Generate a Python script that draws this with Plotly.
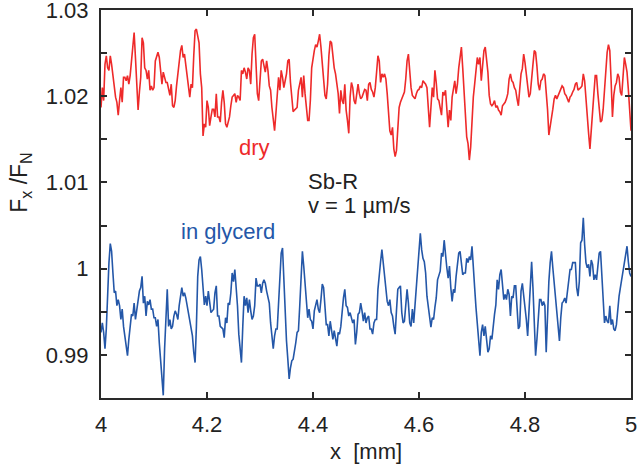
import numpy as np
import plotly.graph_objects as go

# Friction ratio Fx/FN vs sliding distance x [mm], sampled on a uniform grid 4..5 mm
dry = [
1.0187, 1.0210, 1.0195, 1.0237, 1.0247, 1.0233, 1.0230, 1.0247, 1.0237, 1.0222,
1.0212, 1.0199, 1.0193, 1.0178, 1.0195, 1.0210, 1.0193, 1.0222, 1.0222, 1.0218,
1.0224, 1.0214, 1.0224, 1.0241, 1.0262, 1.0274, 1.0245, 1.0214, 1.0184, 1.0205,
1.0222, 1.0268, 1.0262, 1.0233, 1.0230, 1.0220, 1.0230, 1.0207, 1.0212, 1.0207,
1.0210, 1.0241, 1.0247, 1.0251, 1.0245, 1.0232, 1.0214, 1.0228, 1.0220, 1.0216,
1.0216, 1.0210, 1.0201, 1.0214, 1.0189, 1.0187, 1.0195, 1.0212, 1.0228, 1.0237,
1.0253, 1.0259, 1.0245, 1.0249, 1.0235, 1.0222, 1.0207, 1.0199, 1.0214, 1.0210,
1.0247, 1.0276, 1.0278, 1.0270, 1.0262, 1.0226, 1.0210, 1.0154, 1.0168, 1.0164,
1.0195, 1.0187, 1.0166, 1.0176, 1.0185, 1.0185, 1.0176, 1.0203, 1.0176, 1.0176,
1.0170, 1.0193, 1.0207, 1.0193, 1.0168, 1.0164, 1.0172, 1.0176, 1.0189, 1.0199,
1.0201, 1.0203, 1.0193, 1.0201, 1.0199, 1.0195, 1.0230, 1.0226, 1.0233, 1.0228,
1.0220, 1.0233, 1.0230, 1.0214, 1.0249, 1.0268, 1.0272, 1.0243, 1.0203, 1.0195,
1.0214, 1.0241, 1.0243, 1.0235, 1.0228, 1.0241, 1.0230, 1.0212, 1.0207, 1.0187,
1.0176, 1.0160, 1.0180, 1.0207, 1.0222, 1.0207, 1.0230, 1.0222, 1.0210, 1.0218,
1.0226, 1.0241, 1.0243, 1.0216, 1.0195, 1.0182, 1.0184, 1.0185, 1.0187, 1.0207,
1.0214, 1.0222, 1.0199, 1.0224, 1.0203, 1.0185, 1.0172, 1.0172, 1.0195, 1.0233,
1.0245, 1.0253, 1.0260, 1.0257, 1.0264, 1.0272, 1.0257, 1.0235, 1.0212, 1.0201,
1.0197, 1.0214, 1.0247, 1.0264, 1.0262, 1.0243, 1.0233, 1.0226, 1.0214, 1.0203,
1.0180, 1.0207, 1.0195, 1.0191, 1.0214, 1.0184, 1.0172, 1.0157, 1.0199, 1.0216,
1.0210, 1.0195, 1.0191, 1.0207, 1.0214, 1.0203, 1.0197, 1.0199, 1.0205, 1.0208,
1.0207, 1.0195, 1.0214, 1.0216, 1.0208, 1.0205, 1.0199, 1.0210, 1.0228, 1.0247,
1.0241, 1.0216, 1.0226, 1.0222, 1.0226, 1.0220, 1.0203, 1.0176, 1.0160, 1.0155,
1.0164, 1.0139, 1.0130, 1.0137, 1.0164, 1.0187, 1.0193, 1.0197, 1.0201, 1.0205,
1.0220, 1.0241, 1.0249, 1.0228, 1.0210, 1.0201, 1.0199, 1.0197, 1.0203, 1.0207,
1.0208, 1.0212, 1.0210, 1.0218, 1.0216, 1.0214, 1.0210, 1.0189, 1.0164, 1.0187,
1.0210, 1.0199, 1.0230, 1.0216, 1.0197, 1.0195, 1.0184, 1.0178, 1.0205, 1.0201,
1.0207, 1.0184, 1.0164, 1.0184, 1.0172, 1.0199, 1.0207, 1.0218, 1.0203, 1.0214,
1.0233, 1.0249, 1.0257, 1.0233, 1.0203, 1.0176, 1.0153, 1.0145, 1.0126, 1.0141,
1.0172, 1.0199, 1.0214, 1.0233, 1.0245, 1.0237, 1.0245, 1.0218, 1.0241, 1.0253,
1.0257, 1.0245, 1.0228, 1.0201, 1.0191, 1.0189, 1.0191, 1.0195, 1.0187, 1.0189,
1.0184, 1.0182, 1.0178, 1.0189, 1.0191, 1.0193, 1.0197, 1.0203, 1.0220, 1.0226,
1.0218, 1.0216, 1.0210, 1.0207, 1.0197, 1.0189, 1.0208, 1.0226, 1.0232, 1.0249,
1.0239, 1.0224, 1.0214, 1.0199, 1.0203, 1.0224, 1.0237, 1.0253, 1.0251, 1.0235,
1.0214, 1.0207, 1.0218, 1.0220, 1.0226, 1.0224, 1.0205, 1.0185, 1.0155, 1.0164,
1.0178, 1.0185, 1.0197, 1.0201, 1.0197, 1.0201, 1.0205, 1.0207, 1.0212, 1.0210,
1.0203, 1.0201, 1.0197, 1.0193, 1.0199, 1.0201, 1.0205, 1.0208, 1.0214, 1.0216,
1.0207, 1.0208, 1.0210, 1.0212, 1.0226, 1.0218, 1.0193, 1.0176, 1.0157, 1.0139,
1.0164, 1.0184, 1.0203, 1.0224, 1.0224, 1.0203, 1.0184, 1.0170, 1.0172, 1.0185,
1.0207, 1.0235, 1.0251, 1.0260, 1.0253, 1.0218, 1.0176, 1.0201, 1.0212, 1.0216,
1.0226, 1.0222, 1.0205, 1.0201, 1.0222, 1.0245, 1.0237, 1.0228, 1.0208, 1.0180, 1.0160,
]

glycerol = [
0.9926, 0.9937, 0.9926, 0.9907, 0.9930, 0.9983, 1.0007, 1.0029, 1.0020, 0.9995,
0.9972, 0.9974, 0.9957, 0.9964, 0.9957, 0.9941, 0.9953, 0.9933, 0.9920, 0.9914,
0.9899, 0.9918, 0.9930, 0.9947, 0.9945, 0.9960, 0.9941, 0.9953, 0.9964, 0.9974,
0.9978, 0.9991, 0.9960, 0.9968, 0.9945, 0.9962, 0.9958, 0.9964, 0.9953, 0.9953,
0.9943, 0.9943, 0.9933, 0.9941, 0.9914, 0.9895, 0.9872, 0.9853, 0.9907, 0.9937,
0.9976, 0.9933, 0.9941, 0.9930, 0.9933, 0.9945, 0.9951, 0.9947, 0.9941, 0.9957,
0.9968, 0.9978, 0.9968, 0.9972, 0.9966, 0.9957, 0.9947, 0.9943, 0.9933, 0.9922,
0.9903, 0.9891, 0.9933, 0.9991, 1.0010, 1.0014, 0.9999, 0.9976, 0.9958, 0.9968,
0.9957, 0.9974, 0.9957, 0.9949, 0.9951, 0.9953, 0.9972, 0.9980, 0.9945, 0.9945,
0.9933, 0.9932, 0.9930, 0.9920, 0.9943, 0.9937, 0.9960, 0.9958, 0.9972, 0.9995,
0.9985, 0.9999, 0.9980, 0.9957, 0.9924, 0.9907, 0.9891, 0.9933, 0.9968, 0.9957,
0.9966, 0.9949, 0.9964, 0.9951, 0.9941, 0.9945, 0.9957, 0.9989, 0.9980, 0.9980,
0.9982, 0.9972, 0.9983, 0.9987, 0.9983, 0.9974, 0.9968, 0.9960, 0.9937, 0.9922,
0.9907, 0.9922, 0.9930, 0.9930, 0.9958, 0.9991, 1.0018, 1.0024, 0.9987, 0.9945,
0.9916, 0.9895, 0.9872, 0.9885, 0.9893, 0.9895, 0.9908, 0.9914, 0.9926, 0.9928,
0.9957, 0.9999, 1.0020, 1.0003, 0.9980, 0.9953, 0.9943, 0.9953, 0.9941, 0.9939,
0.9930, 0.9951, 0.9958, 0.9964, 0.9953, 0.9949, 0.9964, 0.9982, 0.9978, 0.9953,
0.9935, 0.9935, 0.9922, 0.9939, 0.9928, 0.9918, 0.9928, 0.9916, 0.9910, 0.9926,
0.9924, 0.9933, 0.9951, 0.9966, 0.9976, 0.9957, 0.9955, 0.9945, 0.9949, 0.9943,
0.9937, 0.9941, 0.9912, 0.9926, 0.9947, 0.9949, 0.9960, 0.9951, 0.9939, 0.9949,
0.9937, 0.9943, 0.9945, 0.9930, 0.9930, 0.9924, 0.9937, 0.9941, 0.9941, 0.9976,
0.9997, 1.0008, 1.0022, 1.0007, 0.9987, 0.9972, 0.9962, 0.9957, 0.9964, 0.9949,
0.9945, 0.9933, 0.9924, 0.9951, 0.9976, 0.9978, 0.9980, 0.9949, 0.9937, 0.9939,
0.9957, 0.9976, 0.9960, 0.9937, 0.9933, 0.9953, 0.9937, 0.9957, 0.9983, 0.9995,
1.0020, 1.0041, 1.0022, 1.0012, 1.0008, 0.9995, 0.9968, 0.9957, 0.9941, 0.9932,
0.9943, 0.9941, 0.9955, 0.9966, 0.9987, 0.9991, 0.9997, 1.0018, 1.0014, 1.0033,
1.0014, 1.0001, 0.9989, 1.0003, 0.9978, 0.9962, 0.9976, 0.9972, 0.9991, 1.0003,
1.0018, 1.0020, 1.0007, 0.9993, 0.9995, 0.9995, 1.0012, 1.0007, 1.0014, 1.0010,
1.0026, 1.0007, 0.9978, 0.9955, 0.9933, 0.9910, 0.9899, 0.9926, 0.9935, 0.9922,
0.9933, 0.9918, 0.9903, 0.9907, 0.9922, 0.9918, 0.9937, 0.9947, 0.9958, 0.9987,
0.9976, 0.9993, 0.9999, 0.9980, 0.9964, 0.9970, 0.9964, 0.9976, 0.9970, 0.9945,
0.9968, 0.9966, 0.9980, 0.9980, 0.9949, 0.9930, 0.9933, 0.9974, 0.9983, 0.9970,
0.9955, 0.9941, 0.9922, 0.9953, 0.9987, 1.0008, 0.9978, 0.9945, 0.9899, 0.9918,
0.9945, 0.9964, 0.9964, 0.9957, 0.9962, 0.9957, 0.9903, 0.9955, 0.9985, 1.0007,
1.0020, 1.0001, 0.9983, 0.9968, 0.9949, 0.9937, 0.9916, 0.9943, 0.9960, 0.9962,
0.9966, 0.9960, 0.9972, 0.9985, 0.9999, 0.9999, 1.0007, 1.0007, 1.0007, 0.9978,
0.9968, 0.9985, 1.0030, 1.0033, 1.0059, 1.0028, 1.0007, 1.0001, 1.0005, 0.9991,
1.0010, 1.0005, 0.9987, 0.9993, 0.9987, 1.0003, 1.0018, 1.0020, 0.9995, 0.9976,
0.9937, 0.9945, 0.9939, 0.9937, 0.9957, 0.9935, 0.9941, 0.9930, 0.9928, 0.9935,
0.9957, 0.9968, 0.9978, 0.9987, 0.9999, 1.0005, 1.0018, 1.0026, 1.0008, 0.9995, 0.9991,
]

x_dry = np.linspace(4.0, 5.0, len(dry))
x_gly = np.linspace(4.0, 5.0, len(glycerol))

x_tickvals = [4.0, 4.2, 4.4, 4.6, 4.8, 5.0]
x_ticktext = ["4", "4.2", "4.4", "4.6", "4.8", "5"]
y_tickvals = [0.99, 1.0, 1.01, 1.02, 1.03]
y_ticktext = ["0.99", "1", "1.01", "1.02", "1.03"]
y_minorvals = [0.995, 1.005, 1.015, 1.025]

RED = "#EE2A2A"
BLUE = "#2457A8"
FONT = "Liberation Sans, Arial, Helvetica, sans-serif"
INK = "#2a2a2a"

fig = go.Figure()
fig.add_trace(go.Scatter(x=x_dry, y=dry, mode="lines",
                         line=dict(color=RED, width=1.6), name="dry"))
fig.add_trace(go.Scatter(x=x_gly, y=glycerol, mode="lines",
                         line=dict(color=BLUE, width=1.6), name="in glycerol"))

axis_common = dict(showline=True, linewidth=2, linecolor=INK, mirror="ticks",
                   ticks="inside", ticklen=6, tickwidth=1.5, tickcolor=INK,
                   showgrid=False, zeroline=False, ticklabeloverflow="allow",
                   tickfont=dict(family=FONT, size=22, color="#222222"))

fig.update_layout(
    width=640, height=475,
    margin=dict(l=101, r=9, t=10, b=77, autoexpand=False),
    plot_bgcolor="white", paper_bgcolor="white",
    showlegend=False,
    font=dict(family=FONT, size=22, color="#222222"),
    xaxis=dict(range=[4.0, 5.0], tickvals=x_tickvals, ticktext=x_ticktext,
               ticklabelstandoff=6, **axis_common),
    yaxis=dict(range=[0.98499, 1.03001], tickvals=y_tickvals, ticktext=y_ticktext,
               ticklabelstandoff=6,
               minor=dict(tickvals=y_minorvals, ticks="inside", ticklen=6,
                          tickwidth=1.5, tickcolor=INK, showgrid=False),
               **axis_common),
    annotations=[
        dict(text="dry", x=4.2895, y=1.0141, xref="x", yref="y", showarrow=False,
             xanchor="center", yanchor="middle", font=dict(color=RED, size=22)),
        dict(text="in glycerd", x=4.240, y=1.0043, xref="x", yref="y", showarrow=False,
             xanchor="center", yanchor="middle", font=dict(color=BLUE, size=22)),
        dict(text="Sb-R", x=4.386, y=1.0101, xref="x", yref="y", showarrow=False,
             xanchor="left", yanchor="middle", font=dict(color="#222222", size=22)),
        dict(text="v = 1 µm/s", x=4.386, y=1.0073, xref="x", yref="y", showarrow=False,
             xanchor="left", yanchor="middle", font=dict(color="#222222", size=22)),
        dict(text="F<sub>x</sub> /F<sub>N</sub>", x=-0.151, y=0.557, xref="paper", yref="paper",
             showarrow=False, textangle=-90, xanchor="center", yanchor="middle",
             font=dict(color="#222222", size=23)),
        dict(text="x\u00a0 [mm]", x=0.5, y=-0.138, xref="paper", yref="paper",
             showarrow=False, xanchor="center", yanchor="middle",
             font=dict(color="#222222", size=22)),
    ],
)

fig.write_html("out.html")
